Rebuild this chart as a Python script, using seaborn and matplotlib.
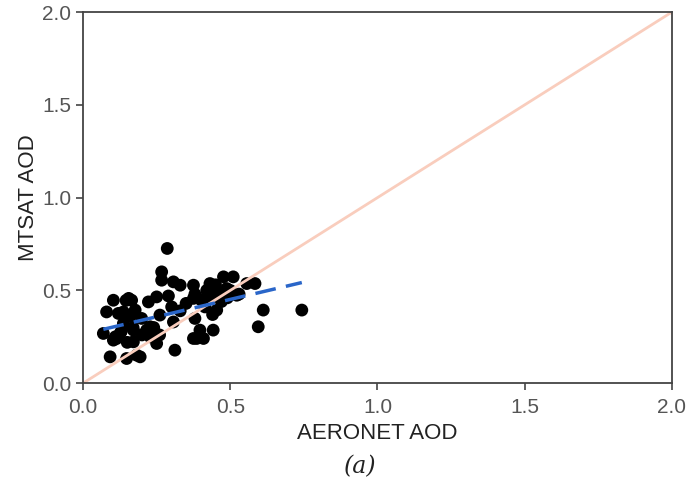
import numpy as np
import pandas as pd
import matplotlib
matplotlib.use("Agg")
import matplotlib.pyplot as plt
import seaborn as sns

# AERONET vs MTSAT AOD pairs
aeronet = [0.286, 0.267, 0.267, 0.307, 0.33, 0.375, 0.431, 0.477, 0.51, 0.556,
           0.584, 0.488, 0.454, 0.522, 0.431, 0.375, 0.25, 0.222, 0.165, 0.103,
           0.301, 0.414, 0.454, 0.612, 0.743, 0.08, 0.137, 0.177, 0.261, 0.199,
           0.38, 0.307, 0.137, 0.228, 0.595, 0.442, 0.397, 0.126, 0.171, 0.228,
           0.171, 0.25, 0.375, 0.409, 0.312, 0.092, 0.148, 0.182, 0.103, 0.069,
           0.12, 0.216, 0.194, 0.35, 0.47, 0.5, 0.44, 0.29, 0.24, 0.386,
           0.146, 0.155, 0.33, 0.4, 0.53, 0.16, 0.113, 0.26,
           0.42, 0.45, 0.38, 0.49, 0.13, 0.17, 0.11, 0.15, 0.2]
mtsat = [0.726, 0.60, 0.555, 0.546, 0.528, 0.528, 0.537, 0.573, 0.573, 0.537,
         0.537, 0.51, 0.49, 0.474, 0.457, 0.457, 0.465, 0.438, 0.447, 0.447,
         0.411, 0.411, 0.394, 0.394, 0.394, 0.384, 0.384, 0.394, 0.367, 0.349,
         0.349, 0.33, 0.322, 0.304, 0.304, 0.286, 0.286, 0.268, 0.286, 0.25,
         0.223, 0.214, 0.241, 0.241, 0.178, 0.142, 0.133, 0.151, 0.232, 0.268,
         0.376, 0.286, 0.142, 0.43, 0.44, 0.50, 0.37, 0.47, 0.30, 0.241,
         0.446, 0.457, 0.39, 0.45, 0.48, 0.36, 0.24, 0.26,
         0.50, 0.53, 0.48, 0.46, 0.28, 0.30, 0.25, 0.22, 0.26]

df = pd.DataFrame({"AERONET AOD": aeronet, "MTSAT AOD": mtsat})
one_to_one = [0.0, 2.0]

sns.set_style("ticks")
plt.rcParams["font.family"] = ["Liberation Sans", "DejaVu Sans"]

fig = plt.figure(figsize=(6.92, 4.82), dpi=100)
ax = fig.add_axes([0.12, 0.205, 0.851, 0.77])

sns.lineplot(x=one_to_one, y=one_to_one, color="#f9cdbd", lw=2, ax=ax)
sns.regplot(data=df, x="AERONET AOD", y="MTSAT AOD", ci=None, ax=ax,
            scatter_kws=dict(color="black", s=85, edgecolors="none", alpha=1),
            line_kws=dict(color="#2a66c9", lw=2.5, ls=(0, (6, 3))))

ax.set_xlim(0, 2)
ax.set_ylim(0, 2)
ax.set_xticks([0, 0.5, 1.0, 1.5, 2.0])
ax.set_yticks([0, 0.5, 1.0, 1.5, 2.0])
ax.set_xticklabels(["0.0", "0.5", "1.0", "1.5", "2.0"])
ax.set_yticklabels(["0.0", "0.5", "1.0", "1.5", "2.0"])
ax.tick_params(labelsize=15, labelcolor="#555555", color="#444444", length=5, width=1.2)
ax.tick_params(axis="x", pad=6)
for s in ax.spines.values():
    s.set_color("#444444")
    s.set_linewidth(1.3)

ax.set_xlabel("AERONET AOD", fontsize=16, color="#222222", labelpad=4)
ax.set_ylabel("MTSAT AOD", fontsize=16, color="#222222", labelpad=2)
fig.text(0.52, 0.018, "(a)", fontsize=17, family="DejaVu Serif", style="italic",
         ha="center", color="#222222")

fig.savefig("out.png", dpi=100)
